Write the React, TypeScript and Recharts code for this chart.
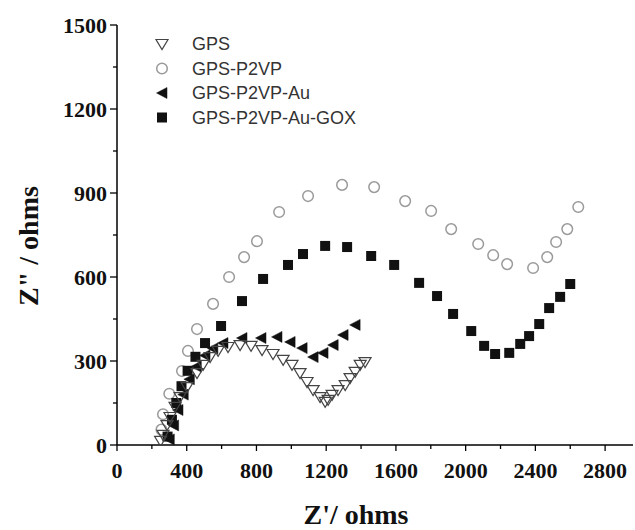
import React from 'react';
import { ScatterChart, Scatter, XAxis, YAxis, Label } from 'recharts';

// Z' (ohms) and Z'' (ohms) for each sample
const gpsRe = [250, 264, 287, 304, 333, 362, 402, 459, 494, 534, 580, 637, 706, 769, 832, 895, 953, 1004, 1050, 1090, 1125, 1165, 1194, 1211, 1234, 1268, 1309, 1337, 1366, 1395, 1423];
const gpsIm = [15, 36, 71, 100, 136, 171, 207, 257, 286, 314, 336, 350, 357, 354, 339, 325, 304, 286, 257, 225, 196, 171, 154, 161, 179, 196, 214, 239, 261, 286, 296];

const p2vpRe = [255, 264, 300, 373, 407, 459, 551, 643, 729, 803, 930, 1096, 1291, 1475, 1653, 1802, 1917, 2072, 2158, 2238, 2387, 2468, 2519, 2583, 2646];
const p2vpIm = [55, 110, 183, 264, 336, 414, 504, 600, 671, 728, 832, 889, 929, 921, 871, 836, 771, 718, 678, 646, 632, 671, 725, 771, 850];

const auRe = [300, 325, 350, 380, 415, 455, 505, 550, 608, 717, 826, 918, 993, 1062, 1125, 1182, 1240, 1297, 1366];
const auIm = [20, 70, 125, 180, 235, 280, 320, 345, 364, 382, 382, 386, 368, 346, 314, 329, 357, 393, 429];

const goxRe = [290, 315, 340, 370, 405, 450, 505, 597, 717, 838, 981, 1067, 1194, 1320, 1458, 1590, 1733, 1836, 1928, 2032, 2106, 2169, 2250, 2313, 2364, 2422, 2479, 2542, 2600];
const goxIm = [30, 90, 150, 210, 265, 315, 364, 425, 514, 593, 643, 682, 711, 707, 675, 643, 579, 532, 468, 407, 354, 325, 329, 361, 389, 432, 489, 529, 575];

const xTicks = [0, 200, 400, 600, 800, 1000, 1200, 1400, 1600, 1800, 2000, 2200, 2400, 2600, 2800];
const yTicks = [0, 150, 300, 450, 600, 750, 900, 1050, 1200, 1350, 1500];

const seriesNames = ['GPS', 'GPS-P2VP', 'GPS-P2VP-Au', 'GPS-P2VP-Au-GOX'];

const toPoints = (xs: number[], ys: number[]) => xs.map((x, i) => ({ x, y: ys[i] }));

const serif = '"Liberation Serif", "Times New Roman", serif';
const sans = '"Liberation Sans", Arial, sans-serif';

const DownTri = ({ cx, cy }: any) => (
  <path d={`M${cx - 6},${cy - 4.5} L${cx + 6},${cy - 4.5} L${cx},${cy + 5.5} Z`} fill="none" stroke="#444" strokeWidth={1.2} />
);
const OpenCircle = ({ cx, cy }: any) => (
  <circle cx={cx} cy={cy} r={5.3} fill="none" stroke="#9a9a9a" strokeWidth={1.5} />
);
const LeftTri = ({ cx, cy }: any) => (
  <path d={`M${cx - 5.5},${cy} L${cx + 5},${cy - 5.5} L${cx + 5},${cy + 5.5} Z`} fill="#111" stroke="#111" strokeWidth={0.5} />
);
const Square = ({ cx, cy }: any) => (
  <rect x={cx - 5} y={cy - 5} width={10} height={10} fill="#111" />
);

const XTick = (props: any) => {
  const { x, y, payload } = props;
  const v = payload.value;
  const major = v % 400 === 0;
  return (
    <g>
      <line x1={x} y1={y} x2={x} y2={y + (major ? 6 : 4)} stroke="#000" strokeWidth={1.3} />
      {major && (
        <text x={x} y={y + 33} textAnchor="middle" fontFamily={serif} fontWeight="bold" fontSize={22} fill="#111">
          {v}
        </text>
      )}
    </g>
  );
};

const YTick = (props: any) => {
  const { x, y, payload } = props;
  const v = payload.value;
  const major = v % 300 === 0;
  return (
    <g>
      <line x1={x} y1={y} x2={x - (major ? 7 : 4)} y2={y} stroke="#000" strokeWidth={1.3} />
      {major && (
        <text x={x - 10} y={y + 7.5} textAnchor="end" fontFamily={serif} fontWeight="bold" fontSize={22} fill="#111">
          {v}
        </text>
      )}
    </g>
  );
};

const legendShapes = [DownTri, OpenCircle, LeftTri, Square];

export default function App() {
  return (
    <div style={{ position: 'absolute', left: 0, top: 0, width: 635, height: 530, background: '#fff' }}>
      <ScatterChart width={635} height={530} margin={{ top: 25, right: 2, bottom: 0, left: 0 }}>
        <XAxis
          type="number"
          dataKey="x"
          domain={[0, 2960]}
          ticks={xTicks}
          interval={0}
          tickSize={0}
          tickMargin={0}
          tickLine={false}
          tick={<XTick />}
          height={85}
          axisLine={{ stroke: '#000', strokeWidth: 1.5 }}
          allowDataOverflow
        >
          <Label
            content={() => (
              <text x={356} y={524} textAnchor="middle" fontFamily={serif} fontWeight="bold" fontSize={28} fill="#111">
                Z'/ ohms
              </text>
            )}
          />
        </XAxis>
        <YAxis
          type="number"
          dataKey="y"
          domain={[0, 1500]}
          ticks={yTicks}
          interval={0}
          tickSize={0}
          tickMargin={0}
          tickLine={false}
          tick={<YTick />}
          width={117}
          axisLine={{ stroke: '#000', strokeWidth: 1.5 }}
          allowDataOverflow
        >
          <Label
            content={() => (
              <text
                x={0}
                y={0}
                transform="translate(38,246) rotate(-90)"
                textAnchor="middle"
                fontFamily={serif}
                fontWeight="bold"
                fontSize={28}
                fill="#111"
              >
                Z" / ohms
              </text>
            )}
          />
        </YAxis>
        <Scatter name={seriesNames[1]} data={toPoints(p2vpRe, p2vpIm)} shape={OpenCircle} isAnimationActive={false} />
        <Scatter name={seriesNames[3]} data={toPoints(goxRe, goxIm)} shape={Square} isAnimationActive={false} />
        <Scatter name={seriesNames[2]} data={toPoints(auRe, auIm)} shape={LeftTri} isAnimationActive={false} />
        <Scatter name={seriesNames[0]} data={toPoints(gpsRe, gpsIm)} shape={DownTri} isAnimationActive={false} />
      </ScatterChart>
      <svg width={250} height={120} style={{ position: 'absolute', left: 140, top: 28 }}>
        {seriesNames.map((name, i) => {
          const Shape = legendShapes[i];
          const cy = 16 + i * 24.5;
          return (
            <g key={name}>
              <Shape cx={22} cy={cy} />
              <text x={52} y={cy + 6} fontFamily={sans} fontSize={18} fill="#333">
                {name}
              </text>
            </g>
          );
        })}
      </svg>
    </div>
  );
}
